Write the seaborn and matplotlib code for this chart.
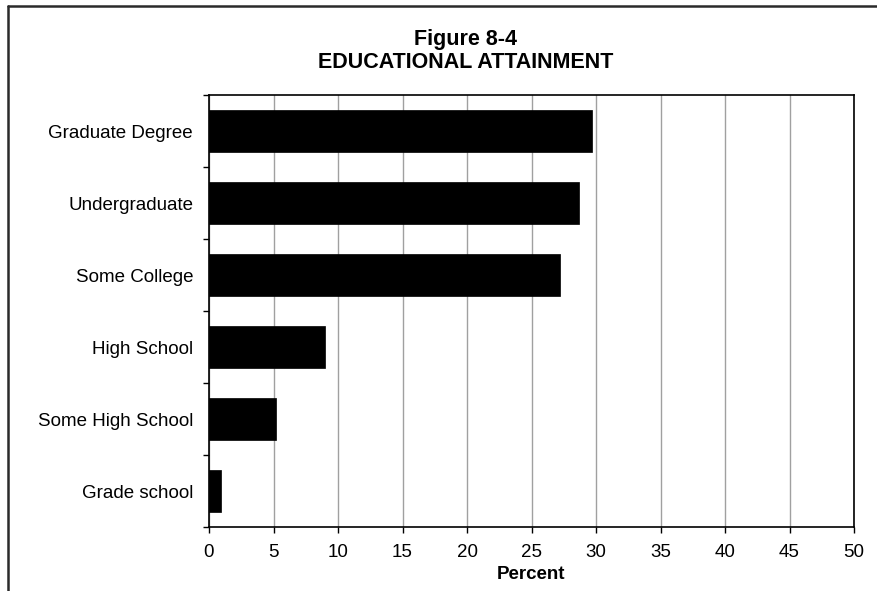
import matplotlib
matplotlib.use("Agg")
import matplotlib.pyplot as plt
from matplotlib.lines import Line2D
import seaborn as sns
import pandas as pd

categories = ["Graduate Degree", "Undergraduate", "Some College",
              "High School", "Some High School", "Grade school"]
percent = [29.7, 28.7, 27.2, 9.0, 5.2, 0.9]
x_ticks = list(range(0, 51, 5))

df = pd.DataFrame({"Category": categories, "Percent": percent})

sns.set_theme(style="white")
plt.rcParams["font.family"] = ["Liberation Sans", "DejaVu Sans"]
plt.rcParams["text.color"] = "black"

W, H = 877, 591
fig = plt.figure(figsize=(W / 100, H / 100), dpi=100)
fig.patch.set_facecolor("white")
ax = fig.add_axes([209 / W, 1 - 527 / H, (854 - 209) / W, (527 - 95) / H])

sns.barplot(data=df, x="Percent", y="Category", order=categories,
            color="black", saturation=1, width=0.58, edgecolor="black",
            linewidth=0.5, ax=ax)

ax.set_xlim(0, 50)
ax.set_xticks(x_ticks)
ax.set_xticklabels([str(t) for t in x_ticks], fontsize=13.5, color="black")
ax.set_ylim(len(categories) - 0.5, -0.5)

# category labels at bar centres, tick marks on category boundaries
ax.set_yticks(range(len(categories)))
ax.set_yticklabels(categories, fontsize=13.5, color="black")
ax.set_yticks([i - 0.5 for i in range(len(categories) + 1)], minor=True)
ax.tick_params(axis="y", which="major", length=0, pad=11.5)
ax.tick_params(axis="y", which="minor", left=True, length=4.5, width=1, color="black")
ax.tick_params(axis="x", which="major", bottom=True, length=4.5, width=1,
               color="black", pad=8)

ax.xaxis.grid(True, color="#a0a0a0", linewidth=1)
ax.yaxis.grid(False)
ax.set_axisbelow(True)
for s in ax.spines.values():
    s.set_visible(True)
    s.set_color("black")
    s.set_linewidth(1.2)

ax.set_ylabel("")
ax.set_xlabel("Percent", fontsize=13.5, fontweight="bold", labelpad=3,
              color="black")

cx = 466 / W
fig.text(cx, 1 - 40 / H, "Figure 8-4", ha="center", va="center",
         fontsize=15.5, fontweight="bold", color="black")
fig.text(cx, 1 - 63 / H, "EDUCATIONAL ATTAINMENT", ha="center", va="center",
         fontsize=15.5, fontweight="bold", color="black")

# chart frame
fig.add_artist(Line2D([8 / W, 8 / W], [0, 1 - 6 / H], transform=fig.transFigure,
                      color="#2a2a2a", linewidth=1.8))
fig.add_artist(Line2D([8 / W, 1], [1 - 6 / H, 1 - 6 / H], transform=fig.transFigure,
                      color="#2a2a2a", linewidth=1.8))

fig.savefig("out.png", dpi=100, facecolor="white")
